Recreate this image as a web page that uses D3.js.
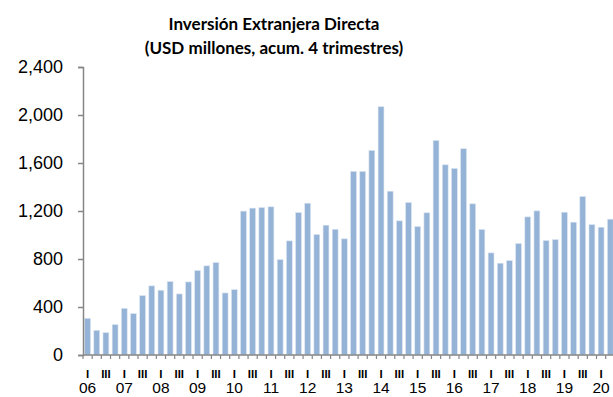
<!DOCTYPE html>
<html>
<head>
<meta charset="utf-8">
<script src="https://cdn.jsdelivr.net/npm/d3@7"></script>
<style>
  html, body { margin: 0; padding: 0; background: #fff; }
  svg { display: block; }
</style>
</head>
<body>
<svg id="chart" width="613" height="397"></svg>
<script>
// Quarterly foreign direct investment, USD millions, rolling 4-quarter sum (2006 Q1 – 2020 Q2)
const years = ["06","07","08","09","10","11","12","13","14","15","16","17","18","19","20"];
const quarterLabels = ["I", "", "III", ""];
const fdiValues = [
  306, 206, 186, 253,    // 2006
  389, 345, 495, 576,    // 2007
  540, 612, 509, 609,    // 2008
  704, 743, 770, 517,    // 2009
  545, 1199, 1224, 1229, // 2010
  1235, 795, 951, 1187,  // 2011
  1265, 1004, 1082, 1048,// 2012
  968, 1530, 1530, 1705, // 2013
  2069, 1365, 1118, 1271,// 2014
  1071, 1185, 1788, 1585,// 2015
  1555, 1719, 1260, 1046,// 2016
  851, 765, 787, 929,    // 2017
  1151, 1201, 954, 962,  // 2018
  1190, 1107, 1321, 1087,// 2019
  1065, 1132             // 2020
];
const yTicks = [0, 400, 800, 1200, 1600, 2000, 2400];
const titleLines = ["Inversión Extranjera Directa", "(USD millones, acum. 4 trimestres)"];

const svg = d3.select("#chart");
const axisColor = "#868686";
const barColor = "#95b3d7";

const x0 = 83, y0 = 355, yTop = 67, step = 9.17;
const x = d3.scaleBand()
  .domain(d3.range(fdiValues.length))
  .range([x0, x0 + step * fdiValues.length])
  .paddingInner(0.36)
  .paddingOuter(0.18);
const y = d3.scaleLinear().domain([0, 2400]).range([y0, yTop]);

// Title
svg.append("g").selectAll("text").data(titleLines).join("text")
  .attr("x", 274)
  .attr("y", (d, i) => 30 + i * 24)
  .attr("text-anchor", "middle")
  .attr("font-family", "Lato, 'Open Sans', sans-serif")
  .attr("font-weight", "bold")
  .attr("font-size", 17)
  .attr("fill", "#000")
  .text(d => d);

// Bars
svg.append("g").selectAll("rect").data(fdiValues).join("rect")
  .attr("x", (d, i) => x(i))
  .attr("y", d => y(d))
  .attr("width", x.bandwidth())
  .attr("height", d => y0 - y(d))
  .attr("fill", barColor)
  .attr("stroke", "#dce6f2")
  .attr("stroke-width", 0.6);

// Y axis
const yAxis = svg.append("g")
  .attr("transform", `translate(${x0},0)`)
  .call(d3.axisLeft(y).tickValues(yTicks).tickFormat(d3.format(",")).tickSize(5).tickPadding(15));
yAxis.select(".domain").attr("stroke", axisColor).attr("stroke-width", 1.5);
yAxis.selectAll(".tick line").attr("stroke", axisColor).attr("stroke-width", 1.5);
yAxis.selectAll(".tick text")
  .attr("font-family", "'Liberation Sans', Arial, sans-serif")
  .attr("font-size", 18)
  .attr("fill", "#000");

// X axis line with small ticks at category boundaries
const xAxisG = svg.append("g");
xAxisG.append("line")
  .attr("x1", x0).attr("x2", 613)
  .attr("y1", y0).attr("y2", y0)
  .attr("stroke", axisColor).attr("stroke-width", 1.5);
xAxisG.selectAll("line.tk").data(d3.range(fdiValues.length + 1)).join("line")
  .attr("class", "tk")
  .attr("x1", i => x0 + i * step).attr("x2", i => x0 + i * step)
  .attr("y1", y0).attr("y2", y0 + 4)
  .attr("stroke", axisColor).attr("stroke-width", 1.2);

// Quarter labels
xAxisG.selectAll("text.q").data(fdiValues.map((d, i) => i)).join("text")
  .attr("class", "q")
  .attr("x", i => x(i) + x.bandwidth() / 2)
  .attr("y", 378)
  .attr("text-anchor", "middle")
  .attr("font-family", "'Liberation Sans', Arial, sans-serif")
  .attr("font-size", 11.5)
  .attr("font-weight", "bold")
  .attr("fill", "#000")
  .text(i => quarterLabels[i % 4]);

// Year labels
xAxisG.selectAll("text.yr").data(years).join("text")
  .attr("class", "yr")
  .attr("x", (d, k) => x(k * 4) + x.bandwidth() / 2)
  .attr("y", 393)
  .attr("text-anchor", "middle")
  .attr("font-family", "'Liberation Sans', Arial, sans-serif")
  .attr("font-size", 15.5)
  .attr("fill", "#000")
  .text(d => d);
</script>
</body>
</html>
